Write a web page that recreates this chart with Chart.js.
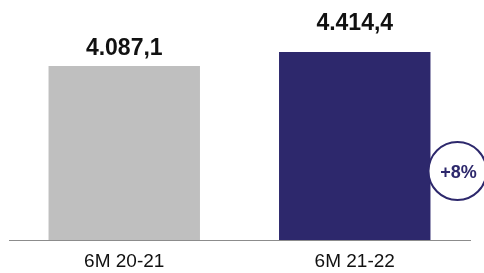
<!DOCTYPE html>
<html>
<head>
<meta charset="utf-8">
<script src="https://cdn.jsdelivr.net/npm/chart.js@4/dist/chart.umd.min.js"></script>
<style>
  html, body { margin: 0; padding: 0; background: #fff; }
  #wrap { width: 484px; height: 273px; }
</style>
</head>
<body>
<div id="wrap"><canvas id="c"></canvas></div>
<script>
"use strict";

const periods = ['6M 20-21', '6M 21-22'];
const revenue = [4087.1, 4414.4];
const growthLabel = '+8%';

const barColors = ['#bfbfbf', '#2d286c'];
const navy = '#2d286c';

// formats 4087.1 as 4.087,1
const fmt = (v) => v.toLocaleString('de-DE', { minimumFractionDigits: 1, maximumFractionDigits: 1 });

// value labels above the bars
const valueLabels = {
    id: 'valueLabels',
    afterDatasetsDraw(chart, args, opts) {
        const ctx = chart.ctx;
        const meta = chart.getDatasetMeta(0);
        ctx.save();
        ctx.font = 'bold 23px "Liberation Sans", Arial, sans-serif';
        ctx.fillStyle = '#111';
        ctx.textAlign = 'center';
        ctx.textBaseline = 'alphabetic';
        meta.data.forEach((bar, i) => {
            ctx.fillText(fmt(revenue[i]), bar.x, bar.y - opts.gaps[i]);
        });
        ctx.restore();
    }
};

// growth bubble next to the second bar
const growthBubble = {
    id: 'growthBubble',
    afterDraw(chart) {
        const ctx = chart.ctx;
        const bar = chart.getDatasetMeta(0).data[1];
        const cx = bar.x + bar.width / 2 + 27;
        const cy = chart.chartArea.bottom - 69;
        ctx.save();
        ctx.beginPath();
        ctx.arc(cx, cy, 29, 0, Math.PI * 2);
        ctx.fillStyle = '#fff';
        ctx.fill();
        ctx.lineWidth = 2;
        ctx.strokeStyle = navy;
        ctx.stroke();
        ctx.font = 'bold 18px "Liberation Sans", Arial, sans-serif';
        ctx.fillStyle = navy;
        ctx.textAlign = 'center';
        ctx.textBaseline = 'middle';
        ctx.fillText(growthLabel, cx + 1, cy + 2);
        ctx.restore();
    }
};

new Chart(document.getElementById('c'), {
    type: 'bar',
    data: {
        labels: periods,
        datasets: [{
            data: revenue,
            backgroundColor: barColors,
            borderWidth: 0,
            categoryPercentage: 1,
            barPercentage: 0.657
        }]
    },
    options: {
        responsive: true,
        maintainAspectRatio: false,
        animation: false,
        layout: { padding: { top: 27, left: 9, right: 14, bottom: 0 } },
        plugins: {
            legend: { display: false },
            tooltip: { enabled: false },
            valueLabels: { gaps: [11, 22] }
        },
        scales: {
            x: {
                grid: { display: false, drawTicks: false },
                border: { display: true, color: '#8c8c8c', width: 1 },
                ticks: {
                    color: '#111',
                    padding: 10,
                    font: { family: '"Liberation Sans", Arial, sans-serif', size: 19 }
                },
                afterFit(scale) { scale.height = 33; }
            },
            y: {
                display: false,
                min: 0,
                max: 5000
            }
        }
    },
    plugins: [valueLabels, growthBubble]
});
</script>
</body>
</html>
